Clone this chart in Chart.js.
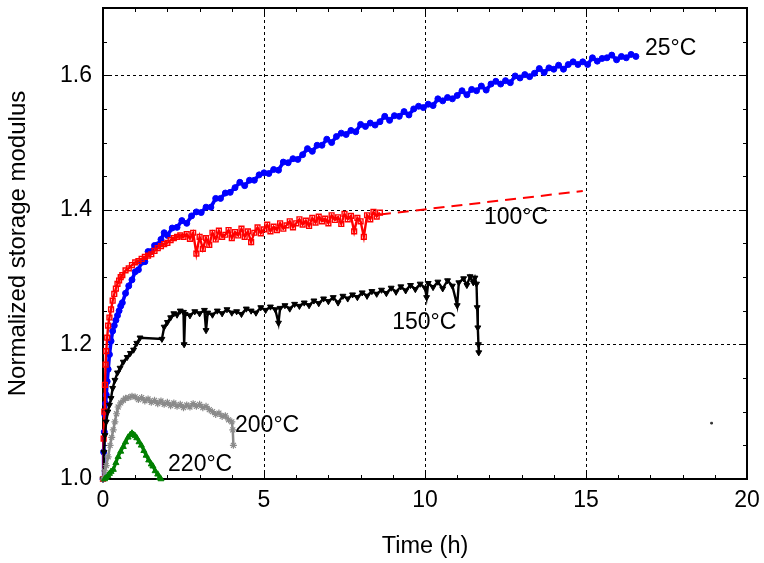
<!DOCTYPE html>
<html>
<head>
<meta charset="utf-8">
<script src="https://cdn.jsdelivr.net/npm/chart.js@4.4.1/dist/chart.umd.min.js"></script>
<style>
  html, body { margin: 0; padding: 0; background: #fff; }
  #wrap { width: 764px; height: 563px; }
</style>
</head>
<body>
<div id="wrap"><canvas id="modulusChart" width="764" height="563"></canvas></div>
<script>
// tick values
const xTicks = [0, 5, 10, 15, 20];
const yTicks = [1.0, 1.2, 1.4, 1.6];

// 25°C (blue circles)
const t25 = [0,0.02,0.04,0.06,0.08,0.10,0.13,0.16,0.20,0.25,0.30,0.35,0.40,0.45,0.50,0.55,0.60,0.70,0.80,0.90,
  1.00,1.10,1.20,1.30,1.40,1.50,1.60,1.70,1.80,1.90,2.00,2.15,2.30,2.45,2.60,2.75,2.90,3.05,3.20,3.35,3.50,3.65,3.80,3.95,
  4.10,4.25,4.40,4.55,4.70,4.85,5.00,5.15,5.30,5.45,5.60,5.75,5.90,6.05,6.20,6.35,6.50,6.65,6.80,6.95,7.10,7.25,7.40,7.55,
  7.70,7.85,8.00,8.15,8.30,8.45,8.60,8.75,8.90,9.05,9.20,9.35,9.50,9.65,9.80,9.95,10.10,10.25,10.40,10.55,10.70,10.85,
  11.00,11.15,11.30,11.45,11.60,11.75,11.90,12.05,12.20,12.35,12.50,12.65,12.80,12.95,13.10,13.25,13.40,13.55,13.70,13.85,
  14.00,14.15,14.30,14.45,14.60,14.75,14.90,15.05,15.20,15.35,15.50,15.65,15.80,15.95,16.10,16.25,16.40,16.55];
const g25 = [1.000,1.040,1.070,1.095,1.112,1.125,1.145,1.163,1.185,1.205,1.220,1.228,1.236,1.243,1.250,1.257,1.262,1.276,1.287,1.296,
  1.308,1.311,1.322,1.323,1.338,1.338,1.347,1.348,1.356,1.366,1.362,1.373,1.374,1.384,1.380,1.391,1.397,1.396,1.404,1.404,1.417,1.417,1.425,1.426,
  1.433,1.441,1.436,1.444,1.444,1.452,1.455,1.454,1.460,1.459,1.471,1.470,1.476,1.475,1.482,1.491,1.487,1.496,1.496,1.505,1.500,1.509,1.514,1.512,
  1.518,1.516,1.527,1.524,1.529,1.526,1.531,1.539,1.533,1.540,1.539,1.546,1.541,1.550,1.554,1.552,1.557,1.555,1.565,1.562,1.567,1.565,
  1.570,1.577,1.571,1.579,1.577,1.584,1.578,1.587,1.591,1.587,1.592,1.589,1.599,1.596,1.601,1.598,1.603,1.610,1.604,1.611,
  1.609,1.615,1.609,1.616,1.620,1.616,1.620,1.616,1.626,1.621,1.625,1.626,1.630,1.623,1.628,1.626,1.631,1.628];

// 100°C (red open squares)
const t100 = [0,0.02,0.04,0.06,0.08,0.10,0.13,0.16,0.20,0.25,0.30,0.35,0.40,0.45,0.50,0.55,0.60,0.70,0.80,0.90,
  1.00,1.10,1.20,1.30,1.40,1.50,1.60,1.70,1.80,1.90,2.00,2.10,2.20,2.30,2.40,2.50,2.60,2.70,2.80,2.90,3.00,3.10,3.20,3.30,3.40,3.50,
  3.60,3.70,3.80,3.90,4.00,4.10,4.20,4.30,4.40,4.50,4.60,4.70,4.80,4.90,5.00,5.10,5.20,5.30,5.40,5.50,5.60,5.70,5.80,5.90,
  6.00,6.10,6.20,6.30,6.40,6.50,6.60,6.70,6.80,6.90,7.00,7.10,7.20,7.30,7.40,7.50,7.60,7.70,7.80,7.90,8.00,8.10,8.20,8.30,8.40,8.50,8.60];
const g100 = [1.000,1.060,1.100,1.140,1.170,1.190,1.210,1.228,1.240,1.252,1.265,1.275,1.283,1.290,1.295,1.300,1.303,1.310,1.313,1.318,
  1.322,1.324,1.327,1.330,1.332,1.334,1.339,1.343,1.346,1.349,1.351,1.355,1.358,1.360,1.362,1.360,1.364,1.357,1.366,1.335,1.360,1.342,1.358,1.348,1.366,1.356,
  1.369,1.360,1.363,1.370,1.358,1.367,1.362,1.372,1.360,1.368,1.352,1.366,1.374,1.365,1.371,1.378,1.368,1.375,1.370,1.380,1.372,1.377,1.383,1.374,
  1.380,1.386,1.378,1.384,1.376,1.388,1.381,1.390,1.383,1.387,1.380,1.392,1.385,1.389,1.379,1.394,1.386,1.391,1.368,1.388,1.383,1.360,1.392,1.386,1.397,1.390,1.396];

// 100°C extrapolation (dashed)
const t100ext = [8.6, 14.9];
const g100ext = [1.393, 1.428];

// 150°C (black down triangles)
const t150 = [0,0.03,0.06,0.10,0.15,0.20,0.25,0.30,0.37,0.45,0.53,0.63,0.75,0.85,0.95,1.05,1.15,1.83,1.90,2.00,2.10,2.20,2.30,2.40,2.50,2.52,2.55,
  2.70,2.85,3.00,3.15,3.20,3.25,3.40,3.55,3.70,3.85,4.00,4.15,4.30,4.45,4.60,4.75,4.90,5.05,5.20,5.35,5.45,5.50,5.65,5.80,5.95,
  6.10,6.25,6.40,6.55,6.70,6.85,7.00,7.15,7.30,7.45,7.60,7.75,7.90,8.05,8.20,8.35,8.50,8.65,8.80,8.95,9.10,9.25,9.40,9.55,9.70,9.85,
  10.00,10.05,10.10,10.25,10.40,10.55,10.70,10.85,11.00,11.05,11.20,11.30,11.40,11.50,11.55,11.60,11.62,11.64,11.66,11.67];
const g150 = [1.000,1.040,1.065,1.085,1.100,1.110,1.120,1.135,1.147,1.158,1.165,1.174,1.181,1.187,1.192,1.202,1.210,1.208,1.226,1.233,1.240,1.246,1.244,1.250,1.248,1.200,1.245,
  1.243,1.249,1.246,1.251,1.221,1.247,1.244,1.250,1.246,1.252,1.247,1.249,1.245,1.253,1.250,1.247,1.255,1.251,1.256,1.252,1.232,1.254,1.258,1.253,1.260,
  1.257,1.262,1.258,1.265,1.261,1.268,1.264,1.270,1.262,1.272,1.268,1.274,1.270,1.277,1.272,1.279,1.275,1.281,1.276,1.284,1.278,1.286,1.280,1.288,1.282,1.290,
  1.284,1.270,1.291,1.285,1.293,1.283,1.295,1.287,1.258,1.292,1.298,1.288,1.301,1.292,1.299,1.290,1.255,1.225,1.200,1.188];

// 200°C (grey)
const t200 = [0,0.05,0.10,0.16,0.22,0.27,0.32,0.37,0.42,0.47,0.55,0.63,0.70,0.80,0.90,
  1.0,1.1,1.2,1.3,1.4,1.5,1.6,1.7,1.8,1.9,2.0,2.1,2.2,2.3,2.4,2.5,2.6,2.7,2.8,2.9,3.0,3.1,3.2,3.3,3.4,3.5,3.6,3.7,3.8,3.9,4.0,4.03,4.05];
const g200 = [1.000,1.012,1.020,1.033,1.050,1.062,1.073,1.085,1.097,1.107,1.113,1.117,1.120,1.121,1.123,
  1.122,1.118,1.121,1.116,1.119,1.114,1.117,1.112,1.116,1.111,1.114,1.109,1.113,1.108,1.111,1.106,1.110,1.107,1.112,1.108,1.111,1.106,1.108,1.103,1.100,1.096,1.098,1.093,1.094,1.088,1.085,1.073,1.050];

// 220°C (green)
const t220 = [0.05,0.10,0.15,0.20,0.25,0.32,0.40,0.47,0.55,0.63,0.70,0.78,0.85,0.90,0.95,1.00,1.05,1.12,1.19,1.27,1.34,1.42,1.50,1.55,1.62,1.70,1.76,1.80];
const g220 = [1.000,1.002,1.005,1.008,1.011,1.014,1.024,1.033,1.041,1.048,1.055,1.062,1.066,1.068,1.066,1.064,1.061,1.055,1.050,1.042,1.035,1.028,1.022,1.019,1.012,1.007,1.002,1.000];

// stray mark near the right edge
const tStray = [18.9];
const gStray = [1.083];

// curve labels
const curveNames = ['25°C', '100°C', '150°C', '200°C', '220°C'];
const nameX = [16.83, 11.83, 8.98, 4.10, 2.02];
const nameY = [1.640, 1.389, 1.233, 1.079, 1.021];

const FONT = '"Liberation Sans", Arial, Helvetica, sans-serif';

function pts(xs, ys) {
    return xs.map((x, i) => ({ x: x, y: ys[i] }));
}

const plotDecor = {
    id: 'plotDecor',
    beforeDatasetsDraw(chart) {
        const { ctx, chartArea: a, scales: { x, y } } = chart;
        ctx.save();
        // dashed grid on the inner major ticks
        ctx.strokeStyle = '#000';
        ctx.lineWidth = 1;
        ctx.setLineDash([3, 3]);
        xTicks.slice(1, -1).forEach(v => {
            const px = Math.round(x.getPixelForValue(v)) + 0.5;
            ctx.beginPath(); ctx.moveTo(px, a.top); ctx.lineTo(px, a.bottom); ctx.stroke();
        });
        yTicks.slice(1).forEach(v => {
            const py = Math.round(y.getPixelForValue(v)) + 0.5;
            ctx.beginPath(); ctx.moveTo(a.left, py); ctx.lineTo(a.right, py); ctx.stroke();
        });
        ctx.setLineDash([]);

        // inward ticks on all four sides
        ctx.lineWidth = 1;
        for (let v = 1; v < 20; v++) {
            const px = Math.round(x.getPixelForValue(v)) + 0.5;
            const len = v % 5 === 0 ? 7 : 4;
            ctx.beginPath();
            ctx.moveTo(px, a.bottom); ctx.lineTo(px, a.bottom - len);
            ctx.moveTo(px, a.top); ctx.lineTo(px, a.top + len);
            ctx.stroke();
        }
        for (let k = 1; k < 14; k++) {
            const v = 1 + k * 0.05;
            const py = Math.round(y.getPixelForValue(v)) + 0.5;
            const len = k % 4 === 0 ? 7 : 4;
            ctx.beginPath();
            ctx.moveTo(a.left, py); ctx.lineTo(a.left + len, py);
            ctx.moveTo(a.right, py); ctx.lineTo(a.right - len, py);
            ctx.stroke();
        }

        // frame
        ctx.lineWidth = 2;
        ctx.strokeRect(a.left, a.top, a.right - a.left, a.bottom - a.top);
        ctx.restore();
    },
    afterDatasetsDraw(chart) {
        const { ctx, scales: { x, y } } = chart;
        ctx.save();
        ctx.fillStyle = '#000';
        ctx.font = '23px ' + FONT;
        ctx.textAlign = 'left';
        ctx.textBaseline = 'middle';
        curveNames.forEach((txt, i) => {
            ctx.fillText(txt, x.getPixelForValue(nameX[i]), y.getPixelForValue(nameY[i]));
        });
        ctx.restore();
    }
};

const ctx = document.getElementById('modulusChart').getContext('2d');

new Chart(ctx, {
    type: 'scatter',
    data: {
        datasets: [
            {
                label: '220°C',
                data: pts(t220, g220),
                showLine: true,
                borderColor: '#008000',
                backgroundColor: '#008000',
                borderWidth: 3,
                pointStyle: 'triangle',
                pointRadius: 3.5,
                pointBorderWidth: 1
            },
            {
                label: '200°C',
                data: pts(t200, g200),
                showLine: true,
                borderColor: '#8a8a8a',
                backgroundColor: '#8a8a8a',
                borderWidth: 2.5,
                pointStyle: 'star',
                pointRadius: 3.5,
                pointBorderWidth: 1.2
            },
            {
                label: '150°C',
                data: pts(t150, g150),
                showLine: true,
                borderColor: '#000',
                backgroundColor: '#000',
                borderWidth: 2.4,
                pointStyle: 'triangle',
                rotation: 180,
                pointRadius: 3.4,
                pointBorderWidth: 1
            },
            {
                label: '100°C fit',
                data: pts(t100ext, g100ext),
                showLine: true,
                borderColor: '#ff0000',
                borderWidth: 2,
                borderDash: [11, 7],
                pointRadius: 0
            },
            {
                label: '100°C',
                data: pts(t100, g100),
                showLine: true,
                borderColor: '#ff0000',
                backgroundColor: 'rgba(255,255,255,0)',
                borderWidth: 2.4,
                pointStyle: 'rect',
                pointRadius: 3.4,
                pointBorderWidth: 1.4
            },
            {
                label: '25°C',
                data: pts(t25, g25),
                showLine: true,
                borderColor: '#0000ff',
                backgroundColor: '#0000ff',
                borderWidth: 3.6,
                pointStyle: 'circle',
                pointRadius: 3,
                pointBorderWidth: 1
            },
            {
                label: 'stray',
                data: pts(tStray, gStray),
                showLine: false,
                borderColor: '#333',
                backgroundColor: '#333',
                pointStyle: 'rect',
                pointRadius: 1.2
            }
        ]
    },
    options: {
        responsive: false,
        animation: false,
        clip: false,
        layout: { padding: { top: 8, right: 17, left: 0, bottom: 0 } },
        plugins: {
            legend: { display: false },
            tooltip: { enabled: false }
        },
        scales: {
            x: {
                type: 'linear',
                min: 0,
                max: 20,
                afterFit: s => { s.height = 84; s.paddingLeft = 0; s.paddingRight = 0; },
                afterBuildTicks: s => { s.ticks = xTicks.map(v => ({ value: v })); },
                grid: { display: false, drawTicks: false },
                border: { display: false },
                ticks: {
                    color: '#000',
                    padding: 8,
                    maxRotation: 0,
                    font: { family: FONT, size: 23 },
                    callback: v => String(v)
                },
                title: {
                    display: true,
                    text: 'Time (h)',
                    color: '#000',
                    font: { family: FONT, size: 23.5 },
                    padding: { top: 0, bottom: 2 }
                }
            },
            y: {
                type: 'linear',
                min: 1.0,
                max: 1.7,
                afterFit: s => { s.width = 103; s.paddingTop = 0; s.paddingBottom = 0; },
                afterBuildTicks: s => { s.ticks = yTicks.map(v => ({ value: v })); },
                grid: { display: false, drawTicks: false },
                border: { display: false },
                ticks: {
                    color: '#000',
                    padding: 11,
                    font: { family: FONT, size: 23 },
                    callback: v => Number(v).toFixed(1)
                },
                title: {
                    display: true,
                    text: 'Normalized storage modulus',
                    color: '#000',
                    font: { family: FONT, size: 24 },
                    padding: { top: 4, bottom: 0 }
                }
            }
        }
    },
    plugins: [plotDecor]
});
</script>
</body>
</html>
